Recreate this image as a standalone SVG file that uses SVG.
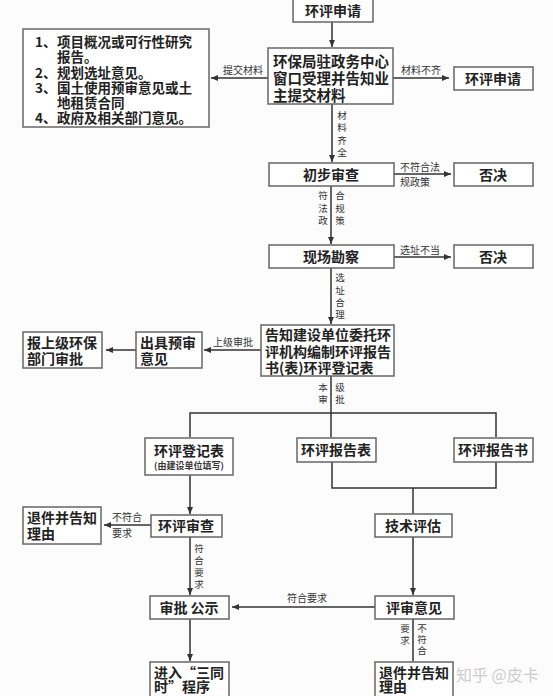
<svg xmlns="http://www.w3.org/2000/svg" width="553" height="696" viewBox="0 0 553 696">
<style>
.box{fill:#fff;stroke:#666;stroke-width:1.5}
.t{font-family:"Noto Sans CJK SC","Noto Sans",sans-serif;font-size:14px;font-weight:700;fill:#222}
.l{font-size:13.5px}
.c{text-anchor:middle}
.s{font-family:"Noto Sans CJK SC","Noto Sans",sans-serif;font-size:10px;fill:#333}
.v{font-size:9.5px}
.ln{stroke:#333;stroke-width:1.5;fill:none}
.wm{font-family:"Noto Sans CJK SC",sans-serif;font-size:16px;fill:#ccc}
</style>
<defs>
<marker id="ah" markerWidth="7" markerHeight="6" refX="7" refY="3" orient="auto" markerUnits="userSpaceOnUse">
<path d="M0,0 L7,3 L0,6 Z" fill="#333"/>
</marker>
</defs>
<rect width="553" height="696" fill="#fcfcfc"/>

<g id="connectors">
<line class="ln" x1="332" y1="22" x2="332" y2="47" marker-end="url(#ah)"/>
<line class="ln" x1="268" y1="78" x2="211" y2="78" marker-end="url(#ah)"/>
<text class="s c" x="243" y="74">提交材料</text>
<line class="ln" x1="393" y1="78" x2="449" y2="78" marker-end="url(#ah)"/>
<text class="s c" x="421" y="74">材料不齐</text>
<line class="ln" x1="332" y1="104" x2="332" y2="162" marker-end="url(#ah)"/>
<text class="s v c" x="342" y="119">材</text><text class="s v c" x="342" y="131">料</text><text class="s v c" x="342" y="144">齐</text><text class="s v c" x="342" y="156">全</text>

<line class="ln" x1="394" y1="174" x2="451" y2="174" marker-end="url(#ah)"/>
<text class="s" x="400" y="171">不符合法</text>
<text class="s" x="400" y="186">规政策</text>
<line class="ln" x1="331" y1="186" x2="331" y2="244" marker-end="url(#ah)"/>
<text class="s v c" x="323" y="199">符</text><text class="s v c" x="323" y="212">法</text><text class="s v c" x="323" y="224">政</text>
<text class="s v c" x="340" y="199">合</text><text class="s v c" x="340" y="212">规</text><text class="s v c" x="340" y="224">策</text>

<line class="ln" x1="394" y1="257" x2="451" y2="257" marker-end="url(#ah)"/>
<text class="s" x="400" y="254">选址不当</text>
<line class="ln" x1="331" y1="268" x2="331" y2="324" marker-end="url(#ah)"/>
<text class="s v c" x="340" y="281">选</text><text class="s v c" x="340" y="294">址</text><text class="s v c" x="340" y="306">合</text><text class="s v c" x="340" y="318">理</text>

<line class="ln" x1="261" y1="350" x2="204" y2="350" marker-end="url(#ah)"/>
<text class="s c" x="233" y="346">上级审批</text>
<line class="ln" x1="136" y1="350" x2="106" y2="350" marker-end="url(#ah)"/>

<line class="ln" x1="331" y1="376" x2="331" y2="413"/>
<text class="s v c" x="323" y="391">本</text><text class="s v c" x="323" y="403">审</text>
<text class="s v c" x="340" y="391">级</text><text class="s v c" x="340" y="403">批</text>
<polyline class="ln" points="190,437 190,413 496,413 496,437"/>
<line class="ln" x1="331" y1="413" x2="331" y2="437"/>

<line class="ln" x1="190" y1="475" x2="190" y2="514" marker-end="url(#ah)"/>
<line class="ln" x1="151" y1="525" x2="104" y2="525" marker-end="url(#ah)"/>
<text class="s" x="112" y="521">不符合</text>
<text class="s" x="112" y="537">要求</text>

<polyline class="ln" points="332,462 332,488 496,488 496,462"/>
<line class="ln" x1="413" y1="488" x2="413" y2="514"/>
<line class="ln" x1="413" y1="537" x2="413" y2="595" marker-end="url(#ah)"/>

<line class="ln" x1="190" y1="537" x2="190" y2="595" marker-end="url(#ah)"/>
<text class="s v c" x="199" y="552">符</text><text class="s v c" x="199" y="564">合</text><text class="s v c" x="199" y="576">要</text><text class="s v c" x="199" y="588">求</text>

<line class="ln" x1="375" y1="607" x2="232" y2="607" marker-end="url(#ah)"/>
<text class="s c" x="307" y="602">符合要求</text>

<line class="ln" x1="190" y1="619" x2="190" y2="661" marker-end="url(#ah)"/>
<line class="ln" x1="413" y1="619" x2="413" y2="661"/>
<text class="s v c" x="405" y="632">要</text><text class="s v c" x="405" y="644">求</text>
<text class="s v c" x="422" y="632">不</text><text class="s v c" x="422" y="643">符</text><text class="s v c" x="422" y="654">合</text>
</g>

<g id="n_apply"><rect class="box" x="293" y="-2" width="80" height="24"/><text class="t c" x="333" y="16">环评申请</text></g>

<g id="n_window"><rect class="box" x="268" y="48" width="125" height="56"/>
<text class="t" x="273" y="67" style="font-size:14.5px">环保局驻政务中心</text>
<text class="t" x="273" y="84" style="font-size:14.5px">窗口受理并告知业</text>
<text class="t" x="273" y="101" style="font-size:14.5px">主提交材料</text></g>

<g id="n_docs"><rect class="box" x="23" y="29" width="186" height="98"/>
<text class="t l" x="35" y="47">1、</text><text class="t l" x="57" y="47">项目概况或可行性研究</text>
<text class="t l" x="57" y="62">报告。</text>
<text class="t l" x="35" y="78">2、</text><text class="t l" x="57" y="78">规划选址意见。</text>
<text class="t l" x="35" y="93">3、</text><text class="t l" x="57" y="93">国土使用预审意见或土</text>
<text class="t l" x="57" y="108">地租赁合同</text>
<text class="t l" x="35" y="123">4、</text><text class="t l" x="57" y="123">政府及相关部门意见。</text></g>

<g id="n_incomplete"><rect class="box" x="454" y="67" width="79" height="23"/><text class="t c" x="493" y="84">环评申请</text></g>

<g id="n_prelim"><rect class="box" x="269" y="163" width="125" height="23"/><text class="t c" x="331" y="180">初步审查</text></g>
<g id="n_reject1"><rect class="box" x="454" y="163" width="79" height="23"/><text class="t c" x="493" y="180">否决</text></g>

<g id="n_survey"><rect class="box" x="269" y="245" width="125" height="23"/><text class="t c" x="331" y="262">现场勘察</text></g>
<g id="n_reject2"><rect class="box" x="454" y="245" width="79" height="23"/><text class="t c" x="493" y="262">否决</text></g>

<g id="n_notify"><rect class="box" x="261" y="325" width="133" height="51"/>
<text class="t" x="265" y="340">告知建设单位委托环</text>
<text class="t" x="265" y="357">评机构编制环评报告</text>
<text class="t" x="265" y="373">书(表)环评登记表</text></g>

<g id="n_pre_opinion"><rect class="box" x="136" y="332" width="66" height="36"/>
<text class="t" x="140" y="348">出具预审</text>
<text class="t" x="140" y="364">意见</text></g>

<g id="n_upper"><rect class="box" x="23" y="332" width="79" height="36"/>
<text class="t" x="27" y="348">报上级环保</text>
<text class="t" x="27" y="364">部门审批</text></g>

<g id="n_register"><rect class="box" x="145" y="438" width="88" height="37"/>
<text class="t c" x="189" y="456">环评登记表</text>
<text class="s c" x="189" y="469" style="font-size:9px;font-weight:700">(由建设单位填写)</text></g>

<g id="n_report_form"><rect class="box" x="297" y="438" width="79" height="24"/><text class="t c" x="336" y="455">环评报告表</text></g>
<g id="n_report_book"><rect class="box" x="454" y="438" width="79" height="24"/><text class="t c" x="493" y="455">环评报告书</text></g>

<g id="n_review"><rect class="box" x="151" y="515" width="71" height="22"/><text class="t c" x="186" y="531">环评审查</text></g>

<g id="n_return1"><rect class="box" x="23" y="507" width="78" height="37"/>
<text class="t" x="27" y="523">退件并告知</text>
<text class="t" x="27" y="539">理由</text></g>

<g id="n_tech"><rect class="box" x="375" y="514" width="77" height="23"/><text class="t c" x="413" y="531">技术评估</text></g>

<g id="n_approve"><rect class="box" x="150" y="596" width="79" height="23"/><text class="t c" x="189" y="613">审批 公示</text></g>

<g id="n_opinion"><rect class="box" x="375" y="596" width="79" height="23"/><text class="t c" x="414" y="613">评审意见</text></g>

<g id="n_3sim"><rect class="box" x="150" y="662" width="79" height="40"/>
<text class="t" x="154" y="678">进入“三同</text>
<text class="t" x="154" y="692">时”程序</text></g>

<g id="n_return2"><rect class="box" x="375" y="662" width="78" height="40"/>
<text class="t" x="379" y="678">退件并告知</text>
<text class="t" x="379" y="692">理由</text></g>

<text class="wm" x="456" y="681">知乎 @皮卡</text>
</svg>
